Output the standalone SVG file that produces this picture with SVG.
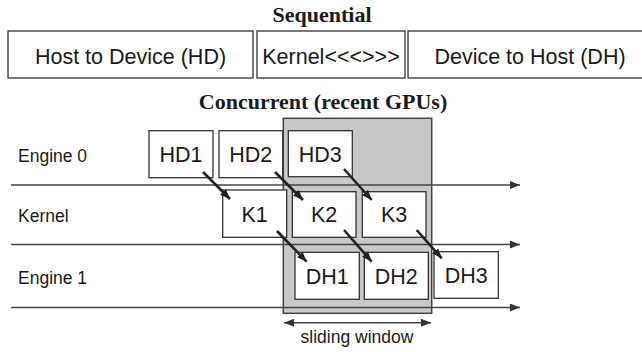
<svg xmlns="http://www.w3.org/2000/svg" width="642" height="352" viewBox="0 0 642 352">
<style>
.title{font-family:"Liberation Serif","Times New Roman",serif;font-weight:bold;font-size:22px;fill:#1a1a1a;text-anchor:middle}
.big{font-family:"Liberation Sans",Arial,sans-serif;font-size:21.5px;fill:#1a1a1a;text-anchor:middle}
.box{font-family:"Liberation Sans",Arial,sans-serif;font-size:21.5px;fill:#1a1a1a;text-anchor:middle}
.lab{font-family:"Liberation Sans",Arial,sans-serif;font-size:17.5px;fill:#1a1a1a}
.cap{font-family:"Liberation Sans",Arial,sans-serif;font-size:17.5px;fill:#1a1a1a;text-anchor:middle}
.r{fill:#fff;stroke:#333;stroke-width:1.3}
.axis{stroke:#444;stroke-width:1.6;fill:none}
.dep{stroke:#222;stroke-width:2.6;fill:none}
</style>
<defs>
<marker id="ah" viewBox="0 0 10 8" refX="10" refY="4" markerWidth="10" markerHeight="8" markerUnits="userSpaceOnUse" orient="auto-start-reverse">
<path d="M0,0 L10,4 L0,8 Z" fill="#333"/>
</marker>
<marker id="dh" viewBox="0 0 10 8" refX="10" refY="4" markerWidth="10" markerHeight="8" markerUnits="userSpaceOnUse" orient="auto">
<path d="M0,0 L10,4 L0,8 Z" fill="#222"/>
</marker>
</defs>
<text class="title" x="322" y="22">Sequential</text>
<g id="seq-hd"><rect class="r" x="8" y="31" width="245" height="47"/><text class="big" x="130.5" y="64">Host to Device (HD)</text></g>
<g id="seq-kernel"><rect class="r" x="257" y="31" width="148" height="47"/><text class="big" x="331" y="64">Kernel&lt;&lt;&lt;&gt;&gt;&gt;</text></g>
<g id="seq-dh"><rect class="r" x="408" y="31" width="244" height="47"/><text class="big" x="530" y="64">Device to Host (DH)</text></g>
<text class="title" x="323" y="109">Concurrent (recent GPUs)</text>
<g id="window"><rect x="283.3" y="118.3" width="148.4" height="195" fill="#c8c8c8" stroke="#444" stroke-width="1.5"/></g>
<g id="labels">
<text class="lab" x="18" y="161.7">Engine 0</text>
<text class="lab" x="18" y="221.5">Kernel</text>
<text class="lab" x="18" y="284">Engine 1</text>
</g>
<g id="timelines">
<line class="axis" x1="11" y1="185" x2="520" y2="185" marker-end="url(#ah)"/>
<line class="axis" x1="11" y1="244.5" x2="520" y2="244.5" marker-end="url(#ah)"/>
<line class="axis" x1="11" y1="307.5" x2="520" y2="307.5" marker-end="url(#ah)"/>
</g>
<g id="HD1"><rect class="r" x="149" y="130.7" width="64" height="47"/><text class="box" x="181" y="162">HD1</text></g>
<g id="HD2"><rect class="r" x="219" y="130.7" width="63.7" height="47"/><text class="box" x="250.8" y="162">HD2</text></g>
<g id="HD3"><rect class="r" x="288.3" y="130.7" width="64" height="46"/><text class="box" x="320.3" y="162">HD3</text></g>
<g id="K1"><rect class="r" x="222.7" y="190" width="64" height="47.3"/><text class="box" x="254.7" y="221.5">K1</text></g>
<g id="K2"><rect class="r" x="292.3" y="191.7" width="63.7" height="45.6"/><text class="box" x="324.2" y="221.5">K2</text></g>
<g id="K3"><rect class="r" x="362.3" y="191.7" width="63.7" height="45.6"/><text class="box" x="394.2" y="221.5">K3</text></g>
<g id="DH1"><rect class="r" x="295" y="252.3" width="64.3" height="47"/><text class="box" x="327.2" y="283.5">DH1</text></g>
<g id="DH2"><rect class="r" x="364.3" y="252.3" width="64" height="47"/><text class="box" x="396.3" y="283.5">DH2</text></g>
<g id="DH3"><rect class="r" x="434" y="251.7" width="64.3" height="46.6"/><text class="box" x="466.2" y="283">DH3</text></g>
<g id="connectors">
<line class="dep" x1="203" y1="172" x2="230" y2="199" marker-end="url(#dh)"/>
<line class="dep" x1="275" y1="172" x2="303" y2="200" marker-end="url(#dh)"/>
<line class="dep" x1="344" y1="169" x2="371.7" y2="200" marker-end="url(#dh)"/>
<line class="dep" x1="277" y1="231" x2="306.7" y2="261.7" marker-end="url(#dh)"/>
<line class="dep" x1="344" y1="230" x2="371.7" y2="261.7" marker-end="url(#dh)"/>
<line class="dep" x1="416.7" y1="230" x2="441.7" y2="258.3" marker-end="url(#dh)"/>
</g>
<g id="sliding-window">
<line class="axis" x1="284" y1="322.7" x2="431" y2="322.7" marker-start="url(#ah)" marker-end="url(#ah)"/>
<text class="cap" x="357" y="343">sliding window</text>
</g>
</svg>
